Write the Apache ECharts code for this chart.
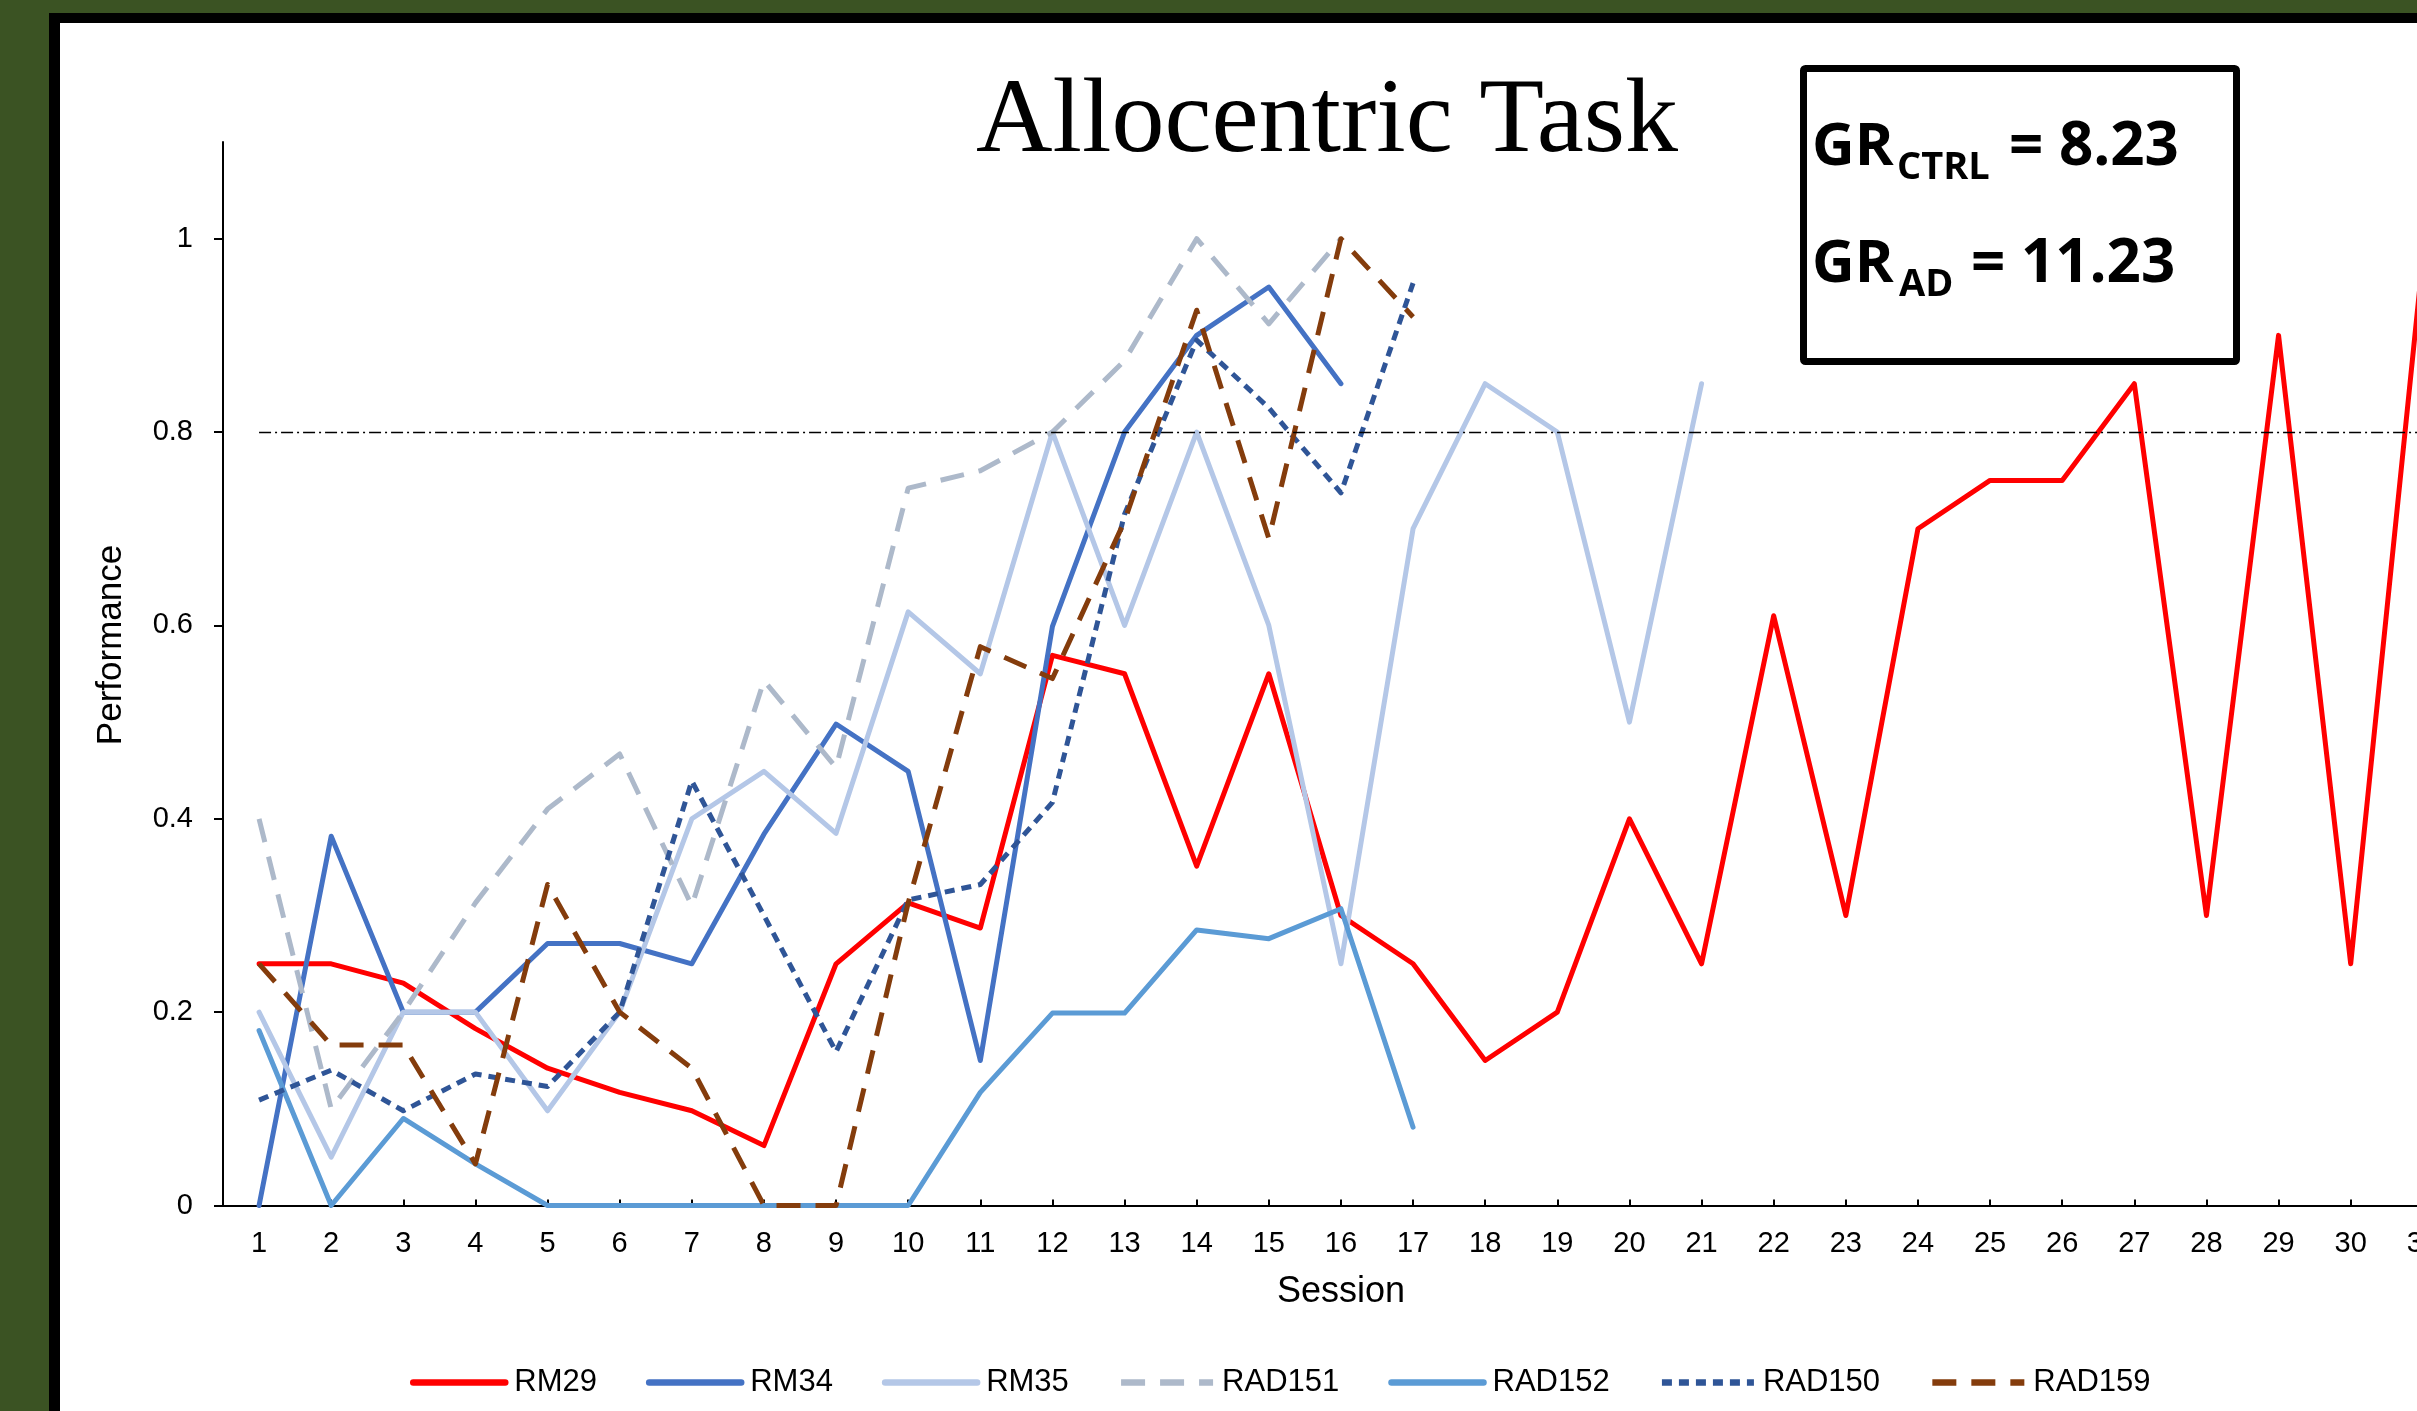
<!DOCTYPE html>
<html>
<head>
<meta charset="utf-8">
<script src="https://cdn.jsdelivr.net/npm/echarts@6/dist/echarts.min.js"></script>
<style>
    html, body { margin: 0; padding: 0; background: #3b5323; overflow: hidden; width: 2417px; height: 1411px; }
    #frame { position: absolute; left: 49px; top: 13px; width: 2600px; height: 1500px; background: #000; }
    #paper { position: absolute; left: 60px; top: 23px; width: 2600px; height: 1500px; background: #fff; }
    /* the chart is wider than the window: the original picture is cut off on the right */
    #chart { position: absolute; left: 0; top: 0; width: 2540px; height: 1411px; }
</style>
</head>
<body>
<div id="frame"></div>
<div id="paper"></div>
<div id="chart"></div>
<script>
"use strict";
// sessions 1..32 (the picture is cut off after 31)
const sessions = [];
for (let i = 1; i <= 32; i++) {
    sessions.push('' + i);
}
const rm29 = [0.25, 0.25, 0.23, 0.183, 0.142, 0.117, 0.098, 0.062, 0.25, 0.313, 0.287, 0.569, 0.55, 0.351, 0.55, 0.30,
    0.25, 0.15, 0.20, 0.40, 0.25, 0.61, 0.30, 0.70, 0.75, 0.75, 0.85, 0.30, 0.90, 0.25, 0.98, null];
const rm34 = [0, 0.382, 0.2, 0.2, 0.271, 0.271, 0.25, 0.384, 0.498, 0.449, 0.15, 0.599, 0.80, 0.90, 0.95, 0.85];
const rm35 = [0.2, 0.05, 0.2, 0.2, 0.098, 0.2, 0.40, 0.449, 0.385, 0.614, 0.55, 0.80, 0.60, 0.80, 0.60, 0.25,
    0.70, 0.85, 0.80, 0.50, 0.85];
const rad151 = [0.40, 0.10, 0.20, 0.313, 0.41, 0.467, 0.31, 0.543, 0.453, 0.742, 0.76, 0.80, 0.874, 1.0, 0.912, 1.0];
const rad152 = [0.181, 0, 0.09, 0.043, 0, 0, 0, 0, 0, 0, 0.117, 0.199, 0.199, 0.285, 0.276, 0.307, 0.081];
const rad150 = [0.109, 0.14, 0.098, 0.136, 0.123, 0.2, 0.439, 0.30, 0.159, 0.316, 0.332, 0.417, 0.715, 0.895, 0.825, 0.737, 0.954];
const rad159 = [0.25, 0.166, 0.166, 0.043, 0.332, 0.2, 0.142, 0, 0, 0.313, 0.578, 0.545, 0.708, 0.926, 0.69, 1.0, 0.919];
const yTicks = [0, 0.2, 0.4, 0.6, 0.8, 1];
const criterion = 0.8;

const FONT = 'Liberation Sans';

function lineSeries(name, data, color, dash) {
    return {
        name,
        type: 'line',
        data,
        symbol: 'none',
        smooth: false,
        connectNulls: false,
        lineStyle: {
            color,
            width: 5,
            type: dash || 'solid',
            cap: dash ? 'butt' : 'round',
            join: 'round'
        },
        itemStyle: { color }
    };
}

const series = [
    lineSeries('RM29', rm29, '#ff0000'),
    lineSeries('RM34', rm34, '#4472c4'),
    lineSeries('RM35', rm35, '#b4c7e7'),
    lineSeries('RAD151', rad151, '#adb9ca', [24, 15]),
    lineSeries('RAD152', rad152, '#5b9bd5'),
    lineSeries('RAD150', rad150, '#2f5597', [10, 7]),
    lineSeries('RAD159', rad159, '#843c0c', [24, 15])
];
// dash-dot criterion line
series[0].markLine = {
    silent: true,
    symbol: 'none',
    label: { show: false },
    lineStyle: { color: '#000', width: 1.3, type: [12, 4, 2, 4] },
    data: [[{ coord: [0, criterion] }, { coord: [sessions.length - 1, criterion] }]]
};

const myChart = echarts.init(document.getElementById('chart'), null, { renderer: 'canvas' });
const option = {
    backgroundColor: 'transparent',
    animation: false,
    grid: {
        left: 223,
        top: 142,
        width: 2308,
        height: 1063.5
    },
    xAxis: {
        type: 'category',
        data: sessions,
        boundaryGap: true,
        axisLine: { lineStyle: { color: '#000', width: 2 } },
        axisTick: { show: true, inside: true, alignWithLabel: true, length: 6, lineStyle: { color: '#000', width: 2 } },
        axisLabel: { interval: 0, margin: 24, fontFamily: FONT, fontSize: 29, color: '#000' },
        splitLine: { show: false }
    },
    yAxis: {
        type: 'value',
        min: 0,
        max: 1.1,
        axisLine: { show: true, lineStyle: { color: '#000', width: 2 } },
        axisTick: { show: true, length: 9, customValues: yTicks, lineStyle: { color: '#000', width: 2 } },
        axisLabel: { customValues: yTicks, margin: 30, fontFamily: FONT, fontSize: 29, color: '#000' },
        splitLine: { show: false }
    },
    legend: {
        data: series.map(s => s.name),
        left: 405,
        top: 1362,
        itemWidth: 92,
        itemHeight: 14,
        itemGap: 49,
        itemStyle: { opacity: 0 },
        lineStyle: { width: 6.5 },
        textStyle: { fontFamily: FONT, fontSize: 31, color: '#000', padding: [0, 0, 0, 4] }
    },
    graphic: [
        {
            type: 'text',
            style: {
                text: 'Allocentric Task',
                x: 1327, y: 123,
                textAlign: 'center', textVerticalAlign: 'middle',
                font: '106px "Liberation Serif"', fill: '#000'
            }
        },
        {
            type: 'text',
            x: 111, y: 645,
            rotation: Math.PI / 2,
            style: {
                text: 'Performance',
                textAlign: 'center', textVerticalAlign: 'middle',
                font: '35px "Liberation Sans"', fill: '#000'
            }
        },
        {
            type: 'text',
            style: {
                text: 'Session',
                x: 1341, y: 1292,
                textAlign: 'center', textVerticalAlign: 'middle',
                font: '36px "Liberation Sans"', fill: '#000'
            }
        },
        {
            type: 'rect',
            shape: { x: 1803.5, y: 68.5, width: 433, height: 293, r: 2 },
            style: { fill: '#fff', stroke: '#000', lineWidth: 7 }
        },
        { type: 'text', style: { text: 'GR', x: 1812, y: 148, textVerticalAlign: 'middle', font: 'bold 59px "Open Sans"', fill: '#000' } },
        { type: 'text', style: { text: 'CTRL', x: 1897, y: 168, textVerticalAlign: 'middle', font: 'bold 38px "Open Sans"', fill: '#000' } },
        { type: 'text', style: { text: '= 8.23', x: 2009, y: 148, textVerticalAlign: 'middle', font: 'bold 60px "Open Sans"', fill: '#000' } },
        { type: 'text', style: { text: 'GR', x: 1812, y: 265, textVerticalAlign: 'middle', font: 'bold 59px "Open Sans"', fill: '#000' } },
        { type: 'text', style: { text: 'AD', x: 1899, y: 285, textVerticalAlign: 'middle', font: 'bold 38px "Open Sans"', fill: '#000' } },
        { type: 'text', style: { text: '= 11.23', x: 1971, y: 265, textVerticalAlign: 'middle', font: 'bold 60px "Open Sans"', fill: '#000' } }
    ],
    series
};
myChart.setOption(option);
</script>
</body>
</html>
